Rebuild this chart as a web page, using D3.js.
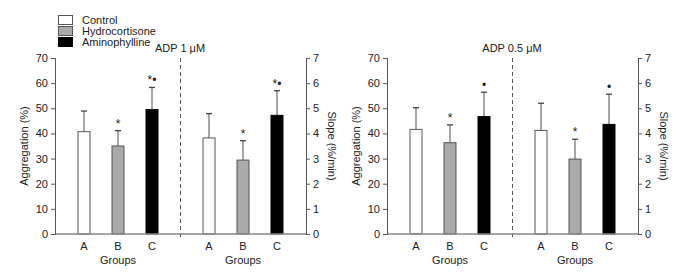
<!DOCTYPE html>
<html>
<head>
<meta charset="utf-8">
<script src="https://cdn.jsdelivr.net/npm/d3@7"></script>
<style>
  body { margin: 0; background: #fff; }
  svg text { font-family: "Liberation Sans", Arial, sans-serif; fill: #222; }
</style>
</head>
<body>
<svg width="683" height="276"></svg>
<script>
// groups and series
var groups = ['A', 'B', 'C'];
var series = ['Control', 'Hydrocortisone', 'Aminophylline'];
var fills = ['#ffffff', '#aaaaaa', '#000000'];

// ADP 1 uM panel
var agg1 = [40.7, 35.0, 49.5];
var agg1Err = [8.2, 6.1, 8.8];
var slope1 = [3.82, 2.94, 4.72];
var slope1Err = [0.97, 0.77, 0.98];
var agg1Marks = ['', '*', '*\u2022'];
var slope1Marks = ['', '*', '*\u2022'];

// ADP 0.5 uM panel
var agg2 = [41.6, 36.3, 46.7];
var agg2Err = [8.6, 7.1, 9.7];
var slope2 = [4.12, 2.98, 4.36];
var slope2Err = [1.08, 0.79, 1.2];
var agg2Marks = ['', '*', '\u2022'];
var slope2Marks = ['', '*', '\u2022'];

var aggTicks = [0, 10, 20, 30, 40, 50, 60, 70];
var slopeTicks = [0, 1, 2, 3, 4, 5, 6, 7];

var panels = [
  {x0: 55, title: 'ADP 1 \u03bcM', agg: agg1, aggErr: agg1Err, slope: slope1, slopeErr: slope1Err, aggMarks: agg1Marks, slopeMarks: slope1Marks},
  {x0: 387, title: 'ADP 0.5 \u03bcM', agg: agg2, aggErr: agg2Err, slope: slope2, slopeErr: slope2Err, aggMarks: agg2Marks, slopeMarks: slope2Marks}
];

var svg = d3.select('svg');
var plotTop = 58, base = 234, w = 251, barW = 12;

var yAgg = d3.scaleLinear().domain([0, 70]).range([base, plotTop]);
var ySlope = d3.scaleLinear().domain([0, 7]).range([base, plotTop]);
// group positions inside each half of a panel
var xLeft = d3.scalePoint().domain(groups).range([29, 97]);
var xRight = d3.scalePoint().domain(groups).range([154, 222]);

function drawBars(parent, x, y, vals, errs, marks) {
  var g = parent.append('g');
  groups.forEach(function(grp, i) {
    var cx = x(grp);
    // error bar stem and cap
    g.append('line')
      .attr('x1', cx).attr('x2', cx)
      .attr('y1', y(vals[i])).attr('y2', y(vals[i] + errs[i]))
      .attr('stroke', '#777').attr('stroke-width', 1.3);
    g.append('line')
      .attr('x1', cx - 3).attr('x2', cx + 3)
      .attr('y1', y(vals[i] + errs[i])).attr('y2', y(vals[i] + errs[i]))
      .attr('stroke', '#444').attr('stroke-width', 1.3);
    g.append('rect')
      .attr('x', cx - barW / 2).attr('width', barW)
      .attr('y', y(vals[i])).attr('height', base - y(vals[i]))
      .attr('fill', fills[i])
      .attr('stroke', i == 2 ? '#000' : '#555').attr('stroke-width', 1);
    if (marks[i]) {
      g.append('text')
        .attr('x', cx).attr('y', y(vals[i] + errs[i]) - 3)
        .attr('text-anchor', 'middle')
        .style('font-size', '12px')
        .text(marks[i]);
    }
  });
  g.selectAll('text.grp')
    .data(groups).enter().append('text')
    .classed('grp', true)
    .attr('x', function(d) { return x(d); })
    .attr('y', 250)
    .attr('text-anchor', 'middle')
    .style('font-size', '11px')
    .text(function(d) { return d; });
  g.append('text')
    .attr('x', x('B')).attr('y', 264)
    .attr('text-anchor', 'middle')
    .style('font-size', '11px')
    .text('Groups');
}

panels.forEach(function(p) {
  var g = svg.append('g').attr('transform', 'translate(' + p.x0 + ',0)');

  // dashed separator
  g.append('line')
    .attr('x1', 125.5).attr('x2', 125.5)
    .attr('y1', plotTop).attr('y2', base + 4)
    .attr('stroke', '#555').attr('stroke-dasharray', '4,3');
  g.append('text')
    .attr('x', 125).attr('y', 52)
    .attr('text-anchor', 'middle')
    .style('font-size', '11px')
    .text(p.title);

  drawBars(g, xLeft, yAgg, p.agg, p.aggErr, p.aggMarks);
  drawBars(g, xRight, ySlope, p.slope, p.slopeErr, p.slopeMarks);

  // baseline
  g.append('line')
    .attr('x1', 0).attr('x2', w)
    .attr('y1', base).attr('y2', base)
    .attr('stroke', '#888').attr('stroke-width', 1.5);

  var la = g.append('g')
    .call(d3.axisLeft(yAgg).tickValues(aggTicks).tickSize(4).tickPadding(3).tickFormat(d3.format('d')));
  var ra = g.append('g').attr('transform', 'translate(' + w + ',0)')
    .call(d3.axisRight(ySlope).tickValues(slopeTicks).tickSize(4).tickPadding(3).tickFormat(d3.format('d')));
  [la, ra].forEach(function(a) {
    a.select('.domain').attr('stroke', '#555');
    a.selectAll('.tick line').attr('stroke', '#555');
    a.selectAll('.tick text').style('font-size', '11px').attr('fill', '#222')
      .style('font-family', '"Liberation Sans", Arial, sans-serif');
  });

  g.append('text')
    .attr('transform', 'translate(-27,' + ((plotTop + base) / 2) + ') rotate(-90)')
    .attr('text-anchor', 'middle')
    .style('font-size', '11px')
    .text('Aggregation (%)');
  g.append('text')
    .attr('transform', 'translate(' + (w + 22) + ',' + ((plotTop + base) / 2) + ') rotate(90)')
    .attr('text-anchor', 'middle')
    .style('font-size', '11px')
    .text('Slope (%/min)');
});

// legend
var leg = svg.append('g').attr('transform', 'translate(58,15)');
series.forEach(function(s, i) {
  leg.append('rect')
    .attr('x', 0.5).attr('y', i * 11 + 0.5)
    .attr('width', 14).attr('height', 9)
    .attr('fill', fills[i]).attr('stroke', i == 2 ? '#000' : '#555');
  leg.append('text')
    .attr('x', 24).attr('y', i * 11 + 9)
    .style('font-size', '11px')
    .text(s);
});
</script>
</body>
</html>
